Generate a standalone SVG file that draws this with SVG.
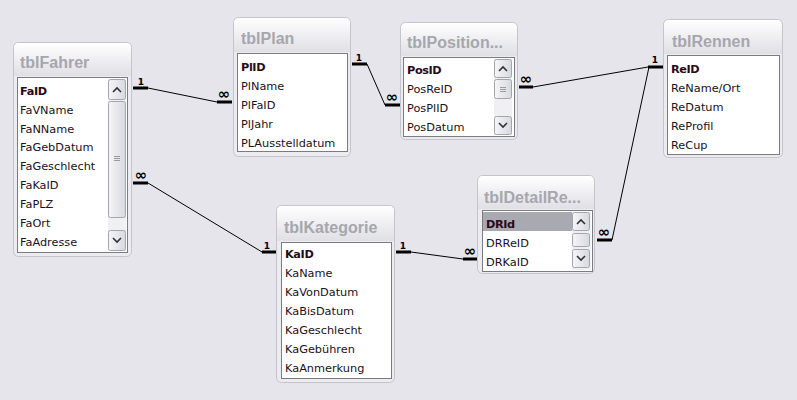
<svg xmlns="http://www.w3.org/2000/svg" width="797" height="400" viewBox="0 0 797 400">
<defs>
<linearGradient id="tg" x1="0" y1="0" x2="0" y2="1">
<stop offset="0" stop-color="#ffffff"/>
<stop offset="1" stop-color="#dfdfe5"/>
</linearGradient>
<linearGradient id="bg" x1="0" y1="0" x2="1" y2="0">
<stop offset="0" stop-color="#f6f6f8"/>
<stop offset="1" stop-color="#d8d8e0"/>
</linearGradient>
<style>
.frame{fill:#ececf0;stroke:#c4c4cc;stroke-width:1}
.title{fill:url(#tg)}
.ttl{font-family:"Liberation Sans",Arial,sans-serif;font-weight:bold;font-size:16px;fill:#a6a6ae}
.list{fill:#ffffff;stroke:#7c7c80;stroke-width:1}
.fld{font-family:"DejaVu Sans",Verdana,sans-serif;font-size:11.3px;fill:#1a1020}
.key{font-family:"DejaVu Sans",Verdana,sans-serif;font-size:11.3px;font-weight:bold;fill:#2a0a1a;letter-spacing:-0.4px}
.track{fill:#f0f0f2}
.btn{fill:url(#bg);stroke:#a4a4ac;stroke-width:1}
.chev{fill:none;stroke:#303038;stroke-width:1.6}
.grip{stroke:#9a9aa2;stroke-width:1}
.hl{fill:#a9a9b1}
.rel{stroke:#000;stroke-width:1;fill:none}
.bar{stroke:#000;stroke-width:3}
.card{font-family:"DejaVu Sans",Verdana,sans-serif;font-weight:bold;font-size:9px;fill:#000;text-anchor:middle}
.inf{font-family:"DejaVu Sans",Verdana,sans-serif;font-weight:bold;font-size:15px;fill:#000;text-anchor:middle}
</style>
</defs>
<rect width="797" height="400" fill="#e6e5ec"/>

<g id="tblFahrer">
<rect class="frame" x="13.5" y="42.5" width="118" height="214" rx="5"/>
<path class="title" d="M14 48 Q14 43 19 43 L126 43 Q131 43 131 48 L131 76 L14 76 Z"/>
<text class="ttl" x="20" y="68">tblFahrer</text>
<rect class="list" x="17.5" y="77.5" width="110" height="175"/>
<rect class="track" x="108" y="79" width="18" height="172"/>
<rect class="btn" x="108.5" y="79.5" width="17" height="20" rx="2"/>
<path class="chev" d="M113 92 L117 88 L121 92"/>
<rect class="btn" x="108.5" y="101.5" width="17" height="116" rx="2"/>
<path class="grip" d="M114 156.5 H120 M114 158.5 H120 M114 160.5 H120"/>
<rect class="btn" x="108.5" y="230.5" width="17" height="20" rx="2"/>
<path class="chev" d="M113 238 L117 242 L121 238"/>
<text class="key" x="20" y="95">FaID</text>
<text class="fld" x="20" y="114">FaVName</text>
<text class="fld" x="20" y="133">FaNName</text>
<text class="fld" x="20" y="151">FaGebDatum</text>
<text class="fld" x="20" y="170">FaGeschlecht</text>
<text class="fld" x="20" y="189">FaKaID</text>
<text class="fld" x="20" y="208">FaPLZ</text>
<text class="fld" x="20" y="227">FaOrt</text>
<text class="fld" x="20" y="246">FaAdresse</text>
</g>

<g id="tblPlan">
<rect class="frame" x="233.5" y="17.5" width="117" height="139" rx="5"/>
<path class="title" d="M234 23 Q234 18 239 18 L345 18 Q350 18 350 23 L350 52 L234 52 Z"/>
<text class="ttl" x="241" y="44">tblPlan</text>
<rect class="list" x="237.5" y="53.5" width="110" height="98"/>
<text class="key" x="241" y="71">PlID</text>
<text class="fld" x="241" y="90">PlName</text>
<text class="fld" x="241" y="109">PlFaID</text>
<text class="fld" x="241" y="128">PlJahr</text>
<text class="fld" x="241" y="147">PLAusstelldatum</text>
</g>

<g id="tblPosition">
<rect class="frame" x="400.5" y="22.5" width="117" height="117" rx="5"/>
<path class="title" d="M401 28 Q401 23 406 23 L512 23 Q517 23 517 28 L517 56 L401 56 Z"/>
<text class="ttl" x="407" y="48">tblPosition...</text>
<rect class="list" x="403.5" y="57.5" width="111" height="79"/>
<rect class="track" x="494" y="59" width="18" height="76"/>
<rect class="btn" x="494.5" y="59.5" width="17" height="18" rx="2"/>
<path class="chev" d="M499 71 L503 67 L507 71"/>
<rect class="btn" x="494.5" y="79.5" width="17" height="19" rx="2"/>
<path class="grip" d="M500 87.5 H506 M500 89.5 H506 M500 91.5 H506"/>
<rect class="btn" x="494.5" y="116.5" width="17" height="18" rx="2"/>
<path class="chev" d="M499 123 L503 127 L507 123"/>
<text class="key" x="407" y="74">PosID</text>
<text class="fld" x="407" y="93">PosReID</text>
<text class="fld" x="407" y="112">PosPlID</text>
<text class="fld" x="407" y="131">PosDatum</text>
</g>

<g id="tblRennen">
<rect class="frame" x="663.5" y="19.5" width="119" height="138" rx="5"/>
<path class="title" d="M664 25 Q664 20 669 20 L777 20 Q782 20 782 25 L782 54 L664 54 Z"/>
<text class="ttl" x="672" y="47">tblRennen</text>
<rect class="list" x="667.5" y="55.5" width="112" height="99"/>
<text class="key" x="671" y="73">ReID</text>
<text class="fld" x="671" y="92">ReName/Ort</text>
<text class="fld" x="671" y="111">ReDatum</text>
<text class="fld" x="671" y="130">ReProfil</text>
<text class="fld" x="671" y="149">ReCup</text>
</g>

<g id="tblKategorie">
<rect class="frame" x="276.5" y="205.5" width="118" height="177" rx="5"/>
<path class="title" d="M277 211 Q277 206 282 206 L389 206 Q394 206 394 211 L394 241 L277 241 Z"/>
<text class="ttl" x="284" y="233">tblKategorie</text>
<rect class="list" x="281.5" y="242.5" width="110" height="136"/>
<text class="key" x="285" y="258">KaID</text>
<text class="fld" x="285" y="277">KaName</text>
<text class="fld" x="285" y="296">KaVonDatum</text>
<text class="fld" x="285" y="315">KaBisDatum</text>
<text class="fld" x="285" y="334">KaGeschlecht</text>
<text class="fld" x="285" y="353">KaGebühren</text>
<text class="fld" x="285" y="372">KaAnmerkung</text>
</g>

<g id="tblDetailRe">
<rect class="frame" x="477.5" y="175.5" width="117" height="98" rx="5"/>
<path class="title" d="M478 181 Q478 176 483 176 L589 176 Q594 176 594 181 L594 209 L478 209 Z"/>
<text class="ttl" x="484" y="203">tblDetailRe...</text>
<rect class="list" x="482.5" y="210.5" width="110" height="61"/>
<rect class="hl" x="483" y="212" width="89" height="19"/>
<rect class="track" x="572" y="212" width="19" height="58"/>
<rect class="btn" x="572.5" y="212.5" width="17" height="18" rx="2"/>
<path class="chev" d="M577 224 L581 220 L585 224"/>
<rect class="btn" x="572.5" y="233.5" width="17" height="13" rx="2"/>
<rect class="btn" x="572.5" y="249.5" width="17" height="18" rx="2"/>
<path class="chev" d="M577 256 L581 260 L585 256"/>
<text class="key" x="486" y="228">DRId</text>
<text class="fld" x="486" y="247">DRReID</text>
<text class="fld" x="486" y="266">DRKaID</text>
</g>

<g id="connectors">
<line class="bar" x1="133" y1="88" x2="148" y2="88"/>
<line class="rel" x1="148" y1="88" x2="217" y2="102"/>
<line class="bar" x1="217" y1="102" x2="232" y2="102"/>
<text class="card" x="141" y="85">1</text>
<text class="inf" x="224" y="99">∞</text>

<line class="bar" x1="133" y1="183" x2="148" y2="183"/>
<line class="rel" x1="148" y1="183" x2="262" y2="252"/>
<line class="bar" x1="262" y1="252" x2="276" y2="252"/>
<text class="inf" x="141" y="180">∞</text>
<text class="card" x="267" y="249">1</text>

<line class="bar" x1="352" y1="64" x2="367" y2="64"/>
<line class="rel" x1="367" y1="64" x2="385" y2="105"/>
<line class="bar" x1="385" y1="105" x2="400" y2="105"/>
<text class="card" x="359" y="61">1</text>
<text class="inf" x="392" y="102">∞</text>

<line class="bar" x1="519" y1="87" x2="533" y2="87"/>
<line class="rel" x1="533" y1="87" x2="648" y2="67"/>
<line class="bar" x1="648" y1="67" x2="663" y2="67"/>
<text class="inf" x="526" y="84">∞</text>
<text class="card" x="655" y="63">1</text>

<line class="bar" x1="396" y1="252" x2="411" y2="252"/>
<line class="rel" x1="411" y1="252" x2="463" y2="259"/>
<line class="bar" x1="463" y1="259" x2="477" y2="259"/>
<text class="card" x="403" y="249">1</text>
<text class="inf" x="470" y="256">∞</text>

<line class="bar" x1="597" y1="240" x2="612" y2="240"/>
<line class="rel" x1="612" y1="240" x2="649" y2="67"/>
<text class="inf" x="604" y="237">∞</text>
</g>
</svg>
